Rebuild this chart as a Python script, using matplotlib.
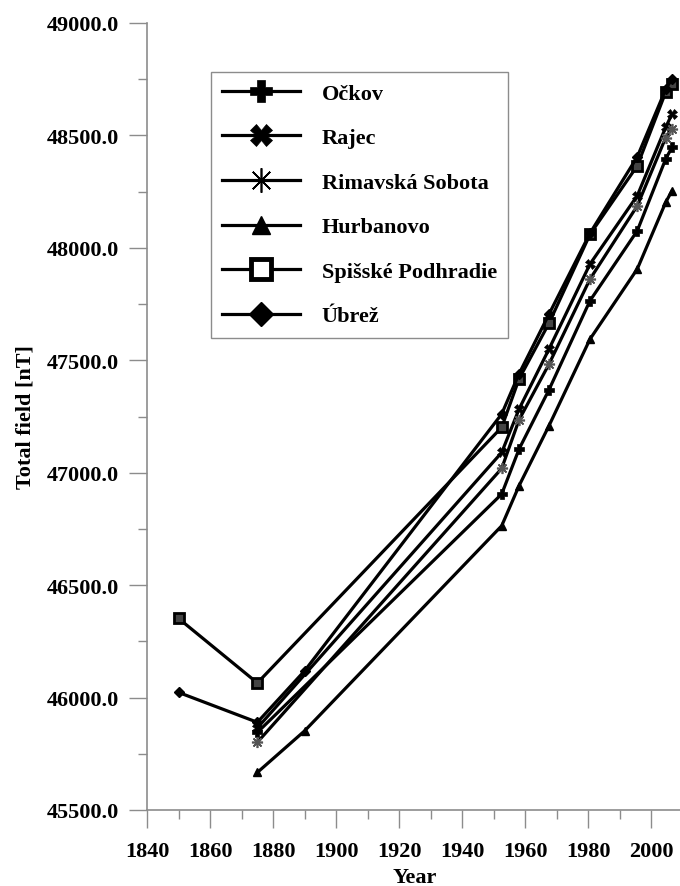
import matplotlib.pyplot as plt
from matplotlib.ticker import MultipleLocator, FormatStrFormatter

# Datos: campo total [nT] por estacion
anos_spisske = [1850, 1875, 1952.5, 1958, 1967.5, 1980.5, 1995.5, 2004.5, 2006.5]
spisske = [46352, 46065, 47202, 47417, 47665, 48060, 48365, 48692, 48730]

anos_ubrez = [1850, 1875, 1890, 1952.5, 1958, 1967.5, 1980.5, 1995.5, 2004.5, 2006.5]
ubrez = [46023, 45890, 46119, 47261, 47440, 47705, 48065, 48405, 48705, 48752]

anos_hurbanovo = [1875, 1890, 1952.5, 1958, 1967.5, 1980.5, 1995.5, 2004.5, 2006.5]
hurbanovo = [45667, 45852, 46764, 46942, 47209, 47594, 47906, 48202, 48254]

anos_ockov = [1875, 1952.5, 1958, 1967.5, 1980.5, 1995.5, 2004.5, 2006.5]
ockov = [45845, 46905, 47105, 47369, 47765, 48076, 48395, 48447]

anos_rajec = [1875, 1952.5, 1958, 1967.5, 1980.5, 1995.5, 2004.5, 2006.5]
rajec = [45865, 47090, 47283, 47550, 47928, 48232, 48536, 48595]

anos_rimavska = [1875, 1952.5, 1958, 1967.5, 1980.5, 1995.5, 2004.5, 2006.5]
rimavska = [45801, 47019, 47235, 47483, 47861, 48187, 48490, 48530]

plt.rcParams['font.family'] = ['Liberation Serif', 'DejaVu Serif']
plt.rcParams['font.weight'] = 'bold'
plt.rcParams['font.size'] = 16

fig = plt.figure(figsize=(6.8, 8.87), dpi=100)
ax = fig.add_axes([147 / 680, 76 / 887, 536 / 680, 787 / 887])

gris = '#8c8c8c'
lw = 2.3

# Lineas de cada estacion
ax.plot(anos_ockov, ockov, color='black', lw=lw, marker='P', ms=7,
        mec='black', mew=0.5, label='Očkov', clip_on=False)
ax.plot(anos_rajec, rajec, color='black', lw=lw, marker='X', ms=7,
        mec='black', mew=0.5, label='Rajec', clip_on=False)
ax.plot(anos_rimavska, rimavska, color='black', lw=lw, marker=(8, 2, 0), ms=8,
        mec='#555555', mew=1.2, label='Rimavská Sobota', clip_on=False)
ax.plot(anos_hurbanovo, hurbanovo, color='black', lw=lw, marker='^', ms=6,
        mec='black', label='Hurbanovo', clip_on=False)
ax.plot(anos_spisske, spisske, color='black', lw=lw, marker='s', ms=6.5,
        mfc='#444444', mec='black', mew=2, label='Spišské Podhradie', clip_on=False)
ax.plot(anos_ubrez, ubrez, color='black', lw=lw, marker='D', ms=5.5,
        mec='black', label='Úbrež', clip_on=False)

ax.set_xlim(1840, 2010)
ax.set_ylim(45500, 49000)

# Ejes y marcas
ax.xaxis.set_major_locator(MultipleLocator(20))
ax.xaxis.set_minor_locator(MultipleLocator(10))
ax.yaxis.set_major_locator(MultipleLocator(500))
ax.yaxis.set_minor_locator(MultipleLocator(250))
ax.yaxis.set_major_formatter(FormatStrFormatter('%.1f'))

for lado in ['top', 'right']:
    ax.spines[lado].set_visible(False)
for lado in ['left', 'bottom']:
    ax.spines[lado].set_color(gris)
    ax.spines[lado].set_linewidth(1.2)

ax.tick_params(which='major', direction='out', length=13, width=1, color=gris,
               labelsize=16)
ax.tick_params(which='minor', direction='out', length=6.5, width=1, color=gris)
ax.tick_params(axis='y', pad=7)
ax.tick_params(axis='x', pad=9)
for t in ax.get_xticklabels() + ax.get_yticklabels():
    t.set_fontweight('bold')

ax.set_xlabel('Year', fontsize=16, fontweight='bold', labelpad=5)
ax.set_ylabel('Total field [nT]', fontsize=16, fontweight='bold', labelpad=8)

# Leyenda
leg = ax.legend(loc='upper left', bbox_to_anchor=(0.119, 0.9377), borderaxespad=0,
                fontsize=16, markerscale=2.2, handlelength=3.5, handletextpad=1.0,
                labelspacing=1.08, borderpad=0.5, fancybox=False, framealpha=1,
                edgecolor=gris)
leg.get_frame().set_linewidth(1.0)
for texto in leg.get_texts():
    texto.set_fontweight('bold')

# Marcadores de la leyenda como en el original
marcas = leg.legend_handles
marcas[2].set_markeredgecolor('black')
marcas[4].set_markerfacecolor('white')
marcas[4].set_markeredgewidth(3.5)

fig.savefig('out.png', dpi=100)
